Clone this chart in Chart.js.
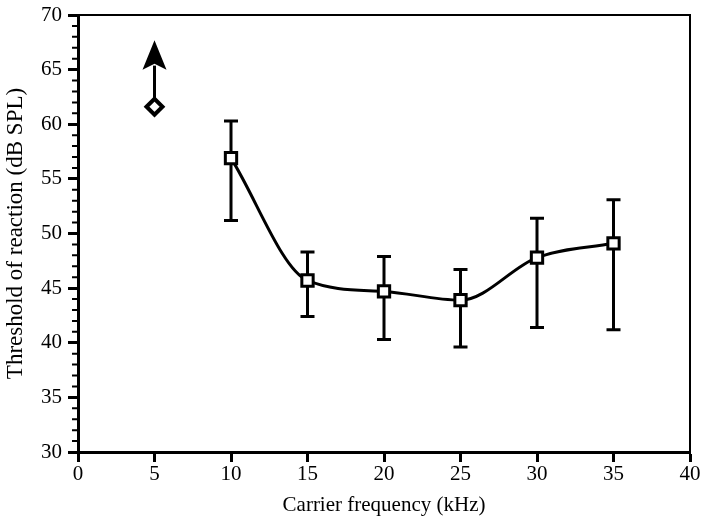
<!DOCTYPE html>
<html>
<head>
<meta charset="utf-8">
<script src="https://cdn.jsdelivr.net/npm/chart.js@4/dist/chart.umd.min.js"></script>
<style>
  html, body { margin: 0; padding: 0; background: #fff; }
  #wrap { width: 703px; height: 519px; }
</style>
</head>
<body>
<div id="wrap"><canvas id="chart" width="703" height="519"></canvas></div>
<script>
// ─── Data ───────────────────────────────────────────────────────────────
const freqs      = [10, 15, 20, 25, 30, 35];           // kHz
const thresholds = [56.9, 45.7, 44.7, 43.9, 47.8, 49.1]; // dB SPL
const errUpper   = [60.3, 48.3, 47.9, 46.7, 51.4, 53.1];
const errLower   = [51.2, 42.4, 40.3, 39.6, 41.4, 41.2];

// 5 kHz: no reaction up to the max level -> diamond with an up arrow
const lowFreq      = [5];
const lowThreshold = [61.6];
const arrowTip     = 67.7;
const arrowBase    = 65.0;

const xTicks = [0, 5, 10, 15, 20, 25, 30, 35, 40];
const yTicks = [30, 35, 40, 45, 50, 55, 60, 65, 70];

const FONT = "'Liberation Serif', 'Times New Roman', serif";
const INK = "#000";

// ─── Plugins ────────────────────────────────────────────────────────────
const errorBars = {
  id: "errorBars",
  beforeDatasetsDraw(chart) {
    const { ctx, scales: { x, y } } = chart;
    ctx.save();
    ctx.strokeStyle = INK;
    ctx.lineWidth = 3;
    freqs.forEach((f, i) => {
      const px = x.getPixelForValue(f);
      const top = y.getPixelForValue(errUpper[i]);
      const bot = y.getPixelForValue(errLower[i]);
      ctx.beginPath();
      ctx.moveTo(px, top); ctx.lineTo(px, bot);
      ctx.moveTo(px - 7, top); ctx.lineTo(px + 7, top);
      ctx.moveTo(px - 7, bot); ctx.lineTo(px + 7, bot);
      ctx.stroke();
    });

    // arrow above the 5 kHz point
    const ax = x.getPixelForValue(lowFreq[0]);
    const from = y.getPixelForValue(lowThreshold[0]);
    const base = y.getPixelForValue(arrowBase);
    const tip = y.getPixelForValue(arrowTip);
    ctx.beginPath();
    ctx.moveTo(ax, from); ctx.lineTo(ax, base - 4);
    ctx.stroke();
    ctx.fillStyle = INK;
    ctx.beginPath();
    ctx.moveTo(ax, tip);
    ctx.lineTo(ax + 12, base);
    ctx.lineTo(ax, base - 6);
    ctx.lineTo(ax - 12, base);
    ctx.closePath();
    ctx.fill();
    ctx.restore();
  },
};

const frame = {
  id: "frame",
  afterDraw(chart) {
    const { ctx, chartArea: a, scales: { y } } = chart;
    ctx.save();
    ctx.strokeStyle = INK;
    // top and right edges (thinner)
    ctx.lineWidth = 2;
    ctx.beginPath();
    ctx.moveTo(a.left, a.top); ctx.lineTo(a.right, a.top); ctx.lineTo(a.right, a.bottom);
    ctx.stroke();
    // minor ticks on the y axis, every 1 dB
    ctx.beginPath();
    for (let v = yTicks[0]; v <= yTicks[yTicks.length - 1]; v++) {
      if (yTicks.includes(v)) continue;
      const py = y.getPixelForValue(v);
      ctx.moveTo(a.left - 6, py); ctx.lineTo(a.left, py);
    }
    ctx.stroke();
    ctx.restore();
  },
};

// ─── Chart ──────────────────────────────────────────────────────────────
new Chart(document.getElementById("chart"), {
  type: "scatter",
  data: {
    datasets: [
      {
        data: freqs.map((f, i) => ({ x: f, y: thresholds[i] })),
        showLine: true,
        cubicInterpolationMode: "monotone",
        borderColor: INK,
        borderWidth: 3,
        pointStyle: "rect",
        pointRadius: 8,
        pointBorderWidth: 3,
        pointBackgroundColor: "#fff",
        pointBorderColor: INK,
      },
      {
        data: lowFreq.map((f, i) => ({ x: f, y: lowThreshold[i] })),
        showLine: false,
        pointStyle: "rectRot",
        pointRadius: 8,
        pointBorderWidth: 4,
        pointBackgroundColor: "#fff",
        pointBorderColor: INK,
      },
    ],
  },
  plugins: [errorBars, frame],
  options: {
    responsive: false,
    animation: false,
    layout: { padding: { top: 15, right: 13, left: 0, bottom: 0 } },
    plugins: { legend: { display: false }, tooltip: { enabled: false } },
    scales: {
      x: {
        type: "linear",
        min: 0, max: 40,
        afterBuildTicks: (s) => { s.ticks = xTicks.map((v) => ({ value: v })); },
        afterFit: (s) => { s.height = 67; s.paddingLeft = 0; s.paddingRight = 0; },
        border: { display: true, color: INK, width: 3 },
        grid: { drawOnChartArea: false, tickLength: 10, tickWidth: 3, tickColor: INK },
        ticks: { color: INK, font: { family: FONT, size: 21 }, padding: 0, maxRotation: 0 },
        title: {
          display: true, text: "Carrier frequency (kHz)", color: INK,
          font: { family: FONT, size: 21 }, padding: { top: 0, bottom: 1 },
        },
      },
      y: {
        type: "linear",
        min: 30, max: 70,
        afterBuildTicks: (s) => { s.ticks = yTicks.map((v) => ({ value: v })); },
        afterFit: (s) => { s.width = 78; s.paddingTop = 0; s.paddingBottom = 0; },
        border: { display: true, color: INK, width: 3 },
        grid: { drawOnChartArea: false, tickLength: 10, tickWidth: 3, tickColor: INK },
        ticks: { color: INK, font: { family: FONT, size: 21 }, padding: 6 },
        title: {
          display: true, text: "Threshold of reaction (dB SPL)", color: INK,
          font: { family: FONT, size: 23 }, padding: { top: 2, bottom: 0 },
        },
      },
    },
  },
});
</script>
</body>
</html>
